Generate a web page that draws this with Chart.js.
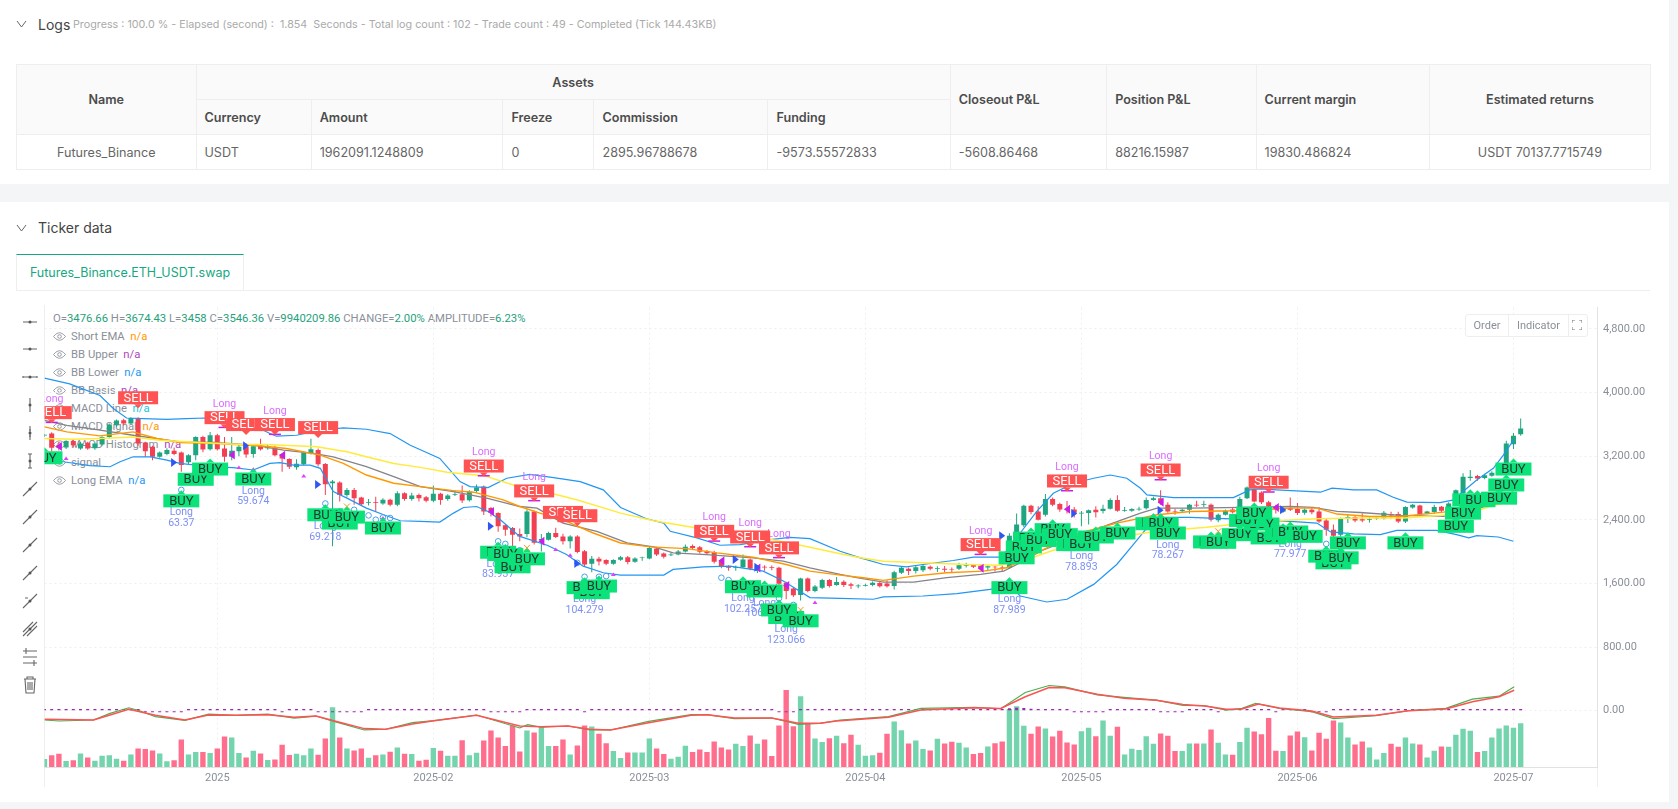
<!DOCTYPE html>
<html>
<head>
<meta charset="utf-8">
<title>Ticker data</title>
<script src="https://cdn.jsdelivr.net/npm/chart.js@4"></script>
<style>
html, body { margin: 0; padding: 0; width: 1678px; height: 809px; overflow: hidden; background: #f4f5f7; font-family: Inter, sans-serif; }
.panel { position: absolute; left: 0; width: 1669px; background: #fff; }
.title { position: absolute; left: 38px; color: #444; }
.chev { position: absolute; left: 16px; width: 11px; height: 8px; }
#assets { position: absolute; left: 16px; top: 64px; border-collapse: collapse; table-layout: fixed; font-size: 12.6px; color: #666; }
#assets th, #assets td { border: 1px solid #eee; padding: 0 8px; text-align: left; height: 34px; white-space: nowrap; overflow: hidden; }
#assets th { background: #fafafa; color: #4c4c4c; font-weight: 600; }
#assets .c { text-align: center; }
#tab { position: absolute; left: 16px; top: 254px; width: 228px; height: 36px; box-sizing: border-box; border: 1px solid #eee; border-top: 1px solid #15a97f; border-bottom: 0; color: #15a97f; font-size: 12.5px; line-height: 36px; text-align: center; }
#tabline { position: absolute; left: 16px; top: 290px; width: 1634px; height: 1px; background: #eee; }
#legend { position: absolute; left: 53px; top: 0; font-family: Roboto, sans-serif; font-size: 11.3px; color: #8a8f99; }
#legend div { position: absolute; white-space: nowrap; }
#legend b { font-weight: 400; }
#legend svg { position: absolute; left: 0; top: 2px; }
#legend span.t { margin-left: 18px; }
#tools { position: absolute; left: 15px; top: 305px; }
#frame { position: absolute; left: 44px; top: 305px; width: 1px; height: 482px; background: #eee; }
#rframe { position: absolute; left: 1597px; top: 767px; width: 1px; height: 20px; background: #eee; }
#chartbox { position: absolute; left: 0; top: 295px; }
#btns { position: absolute; left: 1465px; top: 314px; width: 121px; height: 21px; border: 1px solid #eee; border-radius: 3px; background: #fff; color: #8a8f99; font-family: Roboto, sans-serif; font-size: 11px; line-height: 21px; }
#btns span { position: absolute; top: 0; text-align: center; height: 21px; }
</style>
</head>
<body>
<div class="panel" style="top:0;height:184px"></div>
<div class="panel" style="top:202px;height:600px"></div>

<svg class="chev" style="top:20px" viewBox="0 0 11 8"><path d="M1 1l4.5 6L10 1" fill="none" stroke="#666"/></svg>
<div class="title" style="top:16px;font-size:14px">Logs</div>
<div style="position:absolute;left:73px;top:18px;font-size:10.75px;color:#aaa;white-space:pre">Progress : 100.0 % - Elapsed (second) :  1.854  Seconds - Total log count : 102 - Trade count : 49 - Completed (Tick 144.43KB)</div>

<table id="assets">
<colgroup><col style="width:179.5px"><col style="width:115.2px"><col style="width:191.7px"><col style="width:91.1px"><col style="width:174px"><col style="width:182.3px"><col style="width:156.4px"><col style="width:149.4px"><col style="width:173px"><col style="width:221.8px"></colgroup>
<tr><th rowspan="2" class="c">Name</th><th colspan="5" class="c">Assets</th><th rowspan="2">Closeout P&amp;L</th><th rowspan="2">Position P&amp;L</th><th rowspan="2">Current margin</th><th rowspan="2" class="c">Estimated returns</th></tr>
<tr><th>Currency</th><th>Amount</th><th>Freeze</th><th>Commission</th><th>Funding</th></tr>
<tr><td class="c">Futures_Binance</td><td>USDT</td><td>1962091.1248809</td><td>0</td><td>2895.96788678</td><td>-9573.55572833</td><td>-5608.86468</td><td>88216.15987</td><td>19830.486824</td><td class="c">USDT 70137.7715749</td></tr>
</table>

<svg class="chev" style="top:224px" viewBox="0 0 11 8"><path d="M1 1l4.5 6L10 1" fill="none" stroke="#666"/></svg>
<div class="title" style="top:219px;font-size:14px">Ticker data</div>
<div id="tab">Futures_Binance.ETH_USDT.swap</div>
<div id="tabline"></div>

<div id="legend"></div>
<svg id="tools" width="30" height="395" viewBox="0 0 30 395"></svg>
<div id="frame"></div>
<div id="rframe"></div>
<div id="chartbox"><canvas id="chart" width="1668" height="505" style="display:block;width:1668px;height:505px"></canvas></div>

<div id="btns">
  <span style="left:0;width:42px">Order</span>
  <span style="left:42px;width:59px;border-left:1px solid #eee;border-right:1px solid #eee">Indicator</span>
  <svg style="position:absolute;left:106px;top:5px" width="10" height="10" viewBox="0 0 10 10"><path d="M0 3V0h3M7 0h3v3M10 7v3H7M3 10H0V7" fill="none" stroke="#777"/></svg>
</div>

<script>
// candles (index = bar number from the left)
const candleOpen = [
  3460,3484,3340,3310,3392,3297,3370,3300,3346,3442,
  3588,3650,3610,3672,3370,3317,3192,3226,3268,3247,
  3122,3213,3442,3288,3463,3297,3192,3263,3317,3226,
  3330,3300,3310,3226,3163,3060,3097,3240,3276,3100,
  2860,2868,2713,2776,2680,2610,2622,2605,2651,2590,
  2734,2660,2713,2684,2638,2726,2660,2715,2720,2645,
  2763,2818,2547,2484,2330,2297,2220,2222,2505,2145,
  2150,2235,2190,2130,2190,2005,1847,1910,1895,1847,
  1897,1930,1872,1920,1915,2040,1975,1955,1963,2000,
  2070,2055,2005,1993,1888,1817,1795,1805,1900,1755,
  1810,1805,1797,1610,1535,1455,1663,1505,1547,1642,
  1580,1620,1590,1565,1570,1580,1605,1600,1568,1735,
  1785,1755,1767,1810,1780,1785,1782,1785,1820,1835,
  1822,1800,1810,1808,1800,2170,2330,2576,2505,2463,
  2660,2600,2540,2530,2480,2485,2525,2510,2540,2650,
  2510,2515,2530,2545,2650,2670,2590,2510,2510,2525,
  2590,2585,2590,2395,2465,2530,2505,2670,2775,2742,
  2622,2560,2500,2548,2535,2490,2525,2505,2392,2276,
  2213,2410,2435,2408,2400,2415,2420,2472,2472,2380,
  2555,2580,2480,2497,2563,2505,2620,2734,2925,2950,
  2925,2955,2990,3109,3350,3476.66
];
const candleClose = [
  3470,3305,3310,3392,3338,3360,3297,3360,3442,3597,
  3647,3609,3680,3359,3263,3192,3247,3276,3226,3088,
  3213,3442,3284,3463,3288,3192,3268,3317,3222,3326,
  3288,3310,3213,3172,3067,3105,3242,3288,3097,2846,
  2880,2713,2776,2672,2596,2620,2610,2651,2590,2734,
  2660,2705,2672,2638,2726,2650,2705,2725,2642,2755,
  2805,2505,2485,2318,2276,2213,2190,2505,2110,2160,
  2235,2185,2130,2190,1995,1838,1910,1876,1847,1895,
  1930,1868,1915,1925,2047,1963,1935,1965,2000,2060,
  2045,1997,1980,1872,1820,1797,1805,1900,1785,1815,
  1800,1795,1597,1505,1450,1663,1505,1563,1642,1568,
  1618,1580,1570,1575,1580,1610,1565,1565,1742,1797,
  1755,1805,1818,1785,1790,1772,1775,1830,1830,1810,
  1797,1815,1803,1800,2200,2340,2576,2497,2400,2660,
  2588,2530,2525,2490,2490,2520,2495,2540,2650,2515,
  2520,2535,2540,2650,2670,2610,2505,2505,2525,2590,
  2580,2595,2400,2463,2515,2495,2663,2805,2630,2622,
  2568,2525,2540,2525,2485,2525,2495,2380,2276,2200,
  2410,2435,2392,2390,2410,2425,2490,2455,2380,2560,
  2588,2470,2505,2560,2513,2605,2770,2942,2940,2920,
  2960,2993,3040,3359,3455,3546.36
];
const candleHigh = [
  3480,3500,3380,3400,3410,3380,3380,3375,3450,3610,
  3660,3670,3690,3690,3380,3330,3260,3300,3310,3260,
  3225,3450,3455,3505,3480,3440,3440,3340,3360,3340,
  3420,3345,3330,3235,3175,3160,3250,3420,3295,3115,
  2900,2885,2800,2800,2690,2660,2690,2670,2665,2760,
  2745,2740,2730,2700,2830,2740,2720,2770,2830,2770,
  2845,2830,2560,2495,2345,2310,2290,2530,2520,2220,
  2250,2300,2225,2205,2205,2020,1945,1935,1905,1905,
  1945,1945,1930,1935,2060,2060,1990,1985,2020,2090,
  2090,2070,2020,2010,1900,1830,1825,1965,1915,1830,
  1830,1825,1810,1620,1550,1670,1675,1580,1660,1655,
  1680,1640,1610,1590,1595,1625,1620,1640,1760,1815,
  1800,1830,1840,1825,1815,1820,1800,1860,1860,1845,
  1840,1830,1820,1825,2230,2480,2590,2590,2570,2725,
  2680,2615,2635,2560,2510,2530,2570,2590,2670,2710,
  2560,2545,2565,2680,2690,2770,2620,2540,2540,2600,
  2640,2640,2605,2480,2530,2550,2690,2820,2790,2760,
  2640,2590,2560,2680,2610,2545,2560,2560,2410,2340,
  2430,2465,2450,2480,2440,2440,2510,2500,2500,2570,
  2600,2590,2515,2590,2575,2620,2780,2985,3025,2965,
  2980,3010,3060,3395,3490,3674.43
];
const candleLow = [
  3440,3260,3270,3290,3310,3280,3280,3280,3330,3425,
  3570,3590,3600,3330,3190,3150,3180,3210,3210,3005,
  3100,3150,3250,3270,3270,3130,3150,3200,3180,3180,
  3270,3280,3200,3005,3040,3030,3085,3220,3070,2713,
  2067,2630,2690,2590,2575,2580,2505,2590,2570,2570,
  2640,2640,2630,2620,2620,2590,2640,2700,2610,2630,
  2740,2460,2440,2250,2200,2070,2130,2180,2090,2000,
  2140,2170,2090,2040,1980,1810,1740,1825,1830,1835,
  1885,1840,1860,1885,1905,1945,1915,1945,1955,1990,
  2030,1975,1965,1850,1790,1760,1760,1795,1765,1730,
  1760,1765,1570,1400,1430,1385,1490,1490,1530,1550,
  1570,1555,1530,1540,1560,1565,1550,1550,1525,1720,
  1705,1725,1745,1765,1745,1740,1730,1770,1800,1795,
  1780,1770,1750,1755,1780,2150,2310,2470,2390,2440,
  2570,2500,2480,2430,2320,2340,2430,2480,2530,2500,
  2500,2500,2515,2530,2640,2590,2490,2465,2490,2475,
  2560,2560,2380,2370,2455,2480,2490,2660,2620,2600,
  2540,2480,2490,2510,2460,2465,2470,2360,2200,2180,
  2190,2360,2370,2370,2365,2400,2405,2420,2360,2360,
  2540,2450,2470,2480,2490,2490,2600,2720,2890,2890,
  2910,2940,2975,3090,3290,3458
];
// volume in millions
const volume = [
  1.81,2.64,3.01,1.36,1.51,3.09,2.18,1.43,2.56,2.64,
  1.88,1.43,2.86,4.22,4.07,3.77,3.09,1.28,1.51,6.25,
  2.86,3.39,3.39,3.16,4.22,6.93,6.70,3.16,2.18,3.69,
  3.09,1.58,1.73,5.05,2.71,3.01,2.64,4.22,2.79,6.48,
  13.55,6.70,4.22,3.77,4.22,2.11,2.64,2.86,3.46,4.44,
  3.01,2.94,1.43,1.66,4.29,3.69,2.56,2.56,6.10,2.64,
  3.24,6.02,8.28,6.70,4.74,9.41,3.54,8.28,7.83,9.19,
  4.74,4.74,6.25,2.86,4.89,9.41,9.19,7.53,5.42,3.61,
  2.03,3.31,3.31,3.31,6.48,4.22,2.94,1.88,2.33,4.82,
  3.39,3.99,3.39,5.80,4.44,3.99,5.27,4.74,7.15,5.27,
  6.25,2.48,9.41,17.47,9.26,16.04,9.94,6.48,5.65,6.55,
  7.08,5.42,7.30,5.05,2.56,2.64,3.24,7.53,10.32,8.36,
  5.35,6.02,4.07,3.77,6.40,5.35,5.72,5.50,4.44,2.94,
  3.16,4.67,5.42,5.80,13.18,13.78,9.34,7.53,9.19,8.73,
  6.93,8.21,5.57,5.12,8.13,8.89,7.00,10.54,7.08,9.11,
  2.86,4.14,3.84,7.00,5.27,7.61,7.08,3.61,3.61,5.35,
  5.35,5.35,8.51,5.50,2.86,2.79,5.65,8.89,8.06,7.45,
  11.14,3.69,3.61,7.15,8.06,6.78,3.77,7.76,6.40,10.54,
  10.09,6.70,5.12,5.80,4.44,1.73,3.16,5.27,4.59,6.70,
  5.35,5.12,2.18,3.69,4.67,4.59,7.30,8.66,8.21,3.39,
  3.61,6.70,8.73,9.41,8.89,9.94
];
const macdHist = [
  8,8,8,8,8,8,8,8,8,20,
  22,22,20,8,-18,-18,-18,-18,-18,-18,
  10,10,10,10,10,8,8,8,8,8,
  8,8,8,-14,8,8,8,8,-20,-20,
  -20,-20,-20,-20,-20,8,8,8,8,8,
  8,8,8,8,8,8,8,8,8,8,
  8,8,-20,-20,-20,-20,-20,8,8,8,
  8,8,8,8,8,-14,8,8,8,8,
  8,8,8,8,20,20,8,8,8,8,
  8,8,8,8,8,8,8,8,8,8,
  8,8,-18,-18,-18,8,8,8,8,8,
  8,8,8,8,8,8,8,8,16,16,
  8,8,8,8,8,8,8,8,8,8,
  8,8,8,8,30,36,34,24,20,8,
  8,8,8,-14,-14,-14,-14,-14,8,8,
  8,8,8,8,8,-14,-14,-14,-14,8,
  8,8,8,-14,8,8,8,8,8,8,
  8,-14,8,8,8,8,-18,-18,-18,8,
  8,8,8,8,8,8,8,8,8,8,
  8,8,8,8,8,8,8,22,22,8,
  8,8,8,22,22,22
];

// indicator lines, read at their visible bends: bar position and value
const bbUpperX = [0,3.5,7.7,9.6,11.4,13.7,17,19.7,22.3,26,29,31.3,32.2,35,38.3,41.5,44.7,48,50.8,52.2,54.9,57.7,59.1,61.6,64.2,67.4,70.7,74.4,77.6,80,83.6,86,86.9,90.6,93.8,96.6,100.8,103.5,106.3,110.5,113.3,116.5,119.7,123,126.2,129,132.7,134.1,135.5,137.8,140.1,142.9,145.7,148,150.3,152.2,153.1,156.8,161.4,165.1,167.4,168.8,171.1,177.2,178.8,181.8,185,187.3,189.2,193.8,195.7,197,198.9,201.2,202.6,204];
const bbUpperY = [4180,4109,3963,3797,3680,3672,3663,3672,3680,3672,3588,3484,3451,3463,3526,3555,3538,3484,3338,3280,3172,2880,2818,2805,2922,2972,2930,2880,2776,2555,2413,2359,2255,2172,2080,2088,2151,2180,2163,2005,1922,1838,1809,1851,1888,1930,1930,2047,2234,2505,2734,2859,2922,2963,2922,2797,2713,2680,2680,2680,2776,2788,2776,2747,2797,2776,2776,2684,2622,2617,2651,2755,2901,3047,3213,3401];
const bbLowerX = [0,2.6,6.3,9.1,10.5,12.3,14.7,17,18.8,23,26.2,29,31.3,32.7,34.6,36.9,38.3,40.1,42,44.7,47.1,49.4,52.2,54.9,56.8,58.2,60,61.6,63.3,66,69.8,72.5,74.8,77.6,80,86,87.3,91.5,95.2,99.8,102.6,106.3,110.5,115.1,116.5,122,126.7,131.3,134.1,135.5,139.2,142,145.7,148.9,151.2,152.9,154.2,159.1,161.9,168.8,173,176.7,178.6,181.8,185.5,187.8,193.3,196.1,197.8,198.9,201.9,204];
const bbLowerY = [3151,3130,3080,3067,3130,3192,3192,3151,3109,3067,3055,3026,3109,3118,3088,3088,3047,2755,2672,2547,2463,2388,2380,2372,2484,2555,2567,2505,2401,2192,2080,1963,1817,1734,1705,1705,1776,1809,1817,1755,1630,1422,1413,1401,1430,1442,1472,1526,1567,1442,1367,1401,1588,1838,2088,2276,2430,2430,2422,2400,2380,2359,2247,2222,2213,2267,2267,2213,2172,2201,2184,2130];
const bbBasisX = [0,3.1,7.7,12.3,18.8,23.5,29,33.2,37.3,40.1,44.7,48.5,52.2,56.8,61.4,66,68.4,72,76.7,80.9,84.6,87.3,91.9,98.4,102.6,106.3,110.5,112.8,116.5,120.7,125.3,130,133.2,136.4,138.3,142.9,147.5,152.2,154.5,159.1,168.8,173,176.2,179.5,182.7,188.3,194.3,197,201.2,204];
const bbBasisY = [3651,3588,3526,3463,3380,3372,3338,3276,3234,3192,3067,2942,2817,2755,2672,2567,2547,2359,2255,2109,2059,1984,1963,1922,1880,1797,1713,1672,1617,1617,1672,1713,1755,1901,2005,2172,2330,2484,2547,2547,2560,2567,2555,2505,2492,2455,2442,2505,2588,2672];
const shortEmaX = [0,3.1,7.7,12.3,15.6,18.8,23.9,29.9,33.6,38.3,41.5,44.7,48.5,52.2,56.8,59.6,63.7,66,68.8,72.5,76.2,80,84.1,89.2,93.4,98.4,103,106.3,110.5,113.7,116.5,120.7,125.3,130.4,133.6,136.4,139.2,143.8,148.9,154.5,159.1,165.1,168.8,173,176.7,179.5,184.1,188.3,194.3,197.5,201.2,204];
const shortEmaY = [3568,3505,3455,3505,3422,3372,3359,3330,3297,3213,3109,2963,2859,2817,2767,2747,2651,2567,2484,2380,2234,2109,2059,2038,1984,1930,1838,1755,1705,1672,1638,1692,1734,1755,1797,1922,2047,2234,2359,2463,2505,2513,2526,2547,2547,2472,2442,2442,2497,2547,2651,2755];
const longEmaX = [0,4,7.7,12.3,16,21.6,27.2,30.9,37.8,42,44.7,48.5,52.2,55.9,61,65.1,69.8,73.9,80,84.6,90.6,96.1,102.2,106.3,110.5,113.3,116.5,122,128,132.7,136.4,140.1,143.8,148.9,154.5,161.4,168.8,176.7,182.7,188.8,193.8,198.5,201.2,204];
const longEmaY = [3422,3413,3422,3442,3401,3372,3347,3347,3317,3255,3192,3109,3059,2997,2955,2838,2747,2651,2484,2388,2297,2234,2130,2055,1972,1922,1880,1859,1838,1830,1901,2017,2109,2180,2255,2305,2380,2413,2422,2422,2455,2505,2580,2638];
const macdX = [0,2,6.8,9.1,11.7,13.2,15.4,19.5,22.8,26.6,31,34.7,37.7,40.3,44.4,47.4,51.1,54.1,60,66,67.1,69,72.7,75.7,78.6,83.9,89.8,92,95.8,101,104.7,107.7,110.5,117.2,121.7,129.2,132.8,136.2,139.5,141.7,146.2,149.9,154.4,158.1,161.1,164.1,166.3,168.2,171.5,176,179,184.9,189.4,194.6,198.3,202,204.1];
const macdY = [-117,-129,-117,-33,37,0,-75,-121,-42,-58,-42,-92,-67,-137,-242,-233,-150,-125,-54,-217,-175,-208,-192,-242,-242,-133,-50,-50,-100,-92,-171,-158,-117,-75,29,42,25,229,317,300,200,167,133,67,63,8,29,92,29,-13,-100,-63,0,29,146,183,300];
const signalX = [0,6.8,9.1,11.7,15.4,19.5,22.8,26.6,31,34.7,37.7,40.3,44.4,47.4,51.1,54.1,60,66,69,72.7,75.7,78.6,83.9,89.8,92,95.8,101,104.7,107.7,110,117.2,121.7,129.2,132.8,136.2,139.5,141.7,146.2,149.9,154.4,158.1,161.1,164.1,166.3,168.6,171.5,176,179,184.9,189.4,194.6,198.3,202,204.1];
const signalY = [-108,-117,-54,17,-58,-117,-54,-58,-50,-83,-67,-129,-225,-233,-167,-125,-58,-192,-200,-192,-233,-242,-150,-58,-50,-92,-92,-158,-158,-129,-83,8,38,29,175,292,288,208,158,133,79,58,17,21,83,33,-4,-79,-58,0,21,113,175,258];

// signal labels
const buyIdx =   [0,19,21,23,29,41,39,42,47,65,63,64,67,76,75,77,97,100,103,102,105,134,137,136,135,138,140,141,143,144,146,149,154,155,156,162,163,166,170,169,167,168,172,173,175,179,178,180,181,189,197,196,198,199,202,203,204];
const buyPrice = [3180,2638,2909,3038,2913,2359,2463,2434,2297,1809,1992,1963,1909,1484,1547,1567,1559,1505,1172,1267,1130,1547,2170,2059,1922,2140,2276,2213,2088,2088,2184,2234,2351,2351,2234,2122,2117,2213,2172,2347,2392,2484,2225,2247,2192,1859,1943,1922,2110,2110,2484,2318,2651,2640,2672,2838,3038];
const buyNoteIdx = [19,29,39,63,75,97,100,103,134,144,156,173];
const buyNoteText = ['63.37','59.674','69.218','83.937','104.279','102.257','106.548','123.066','87.989','78.893','78.267','77.977'];
const sellIdx =   [1,13,25,28,32,38,61,68,72,74,93,98,102,130,142,155,170];
const sellPrice = [3747,3934,3684,3597,3597,3559,3076,2763,2493,2451,2255,2184,2047,2088,2888,3026,2872];
const sellNoteIdx = [1,25,32,61,68,93,98,102,130,142,155,170];
const exitLeftIdx =   [2,26,33,62,69,94,99,103,130,142,155,171];
const exitLeftPrice = [3320,3215,3210,2505,2130,1885,1795,1575,1790,2532,2622,2555];
const entryRightIdx =   [18,28,38,62,74,96,99,102,133,143,155,172];
const entryRightPrice = [3120,3330,2845,2318,1850,1900,1805,1535,2200,2480,2520,2525];
const tinyIdx =   [3,27,29,36,47,71,73,79,67,107,134,154,181];
const tinyPrice = [3172,3059,3034,2951,2422,2026,1955,1713,2017,1359,1651,2455,2213];
const circleIdx =   [19,39,41,43,44,45,46,47,48,63,64,66,74,75,77,78,94,95,102,104,178];
const circlePrice = [2776,2605,2505,2526,2442,2455,2401,2430,2422,2130,2097,2017,1859,1684,1684,1692,1672,1642,1413,1330,2097];
const crossIdx =   [42,67,105,163];
const crossPrice = [2567,2047,1267,2255];

const priceTicks = [0,800,1600,2400,3200,4000,4800];
const timeTickIdx = [24,54,84,114,144,174,204];
const timeTickLabels = ['2025','2025-02','2025-03','2025-04','2025-05','2025-06','2025-07'];

const legendRows = [
  ['Short EMA','n/a','#ff9800'],['BB Upper','n/a','#ab47bc'],['BB Lower','n/a','#2196f3'],
  ['BB Basis','n/a','#ab47bc'],['MACD Line','n/a','#26c6da'],['MACD Signal','n/a','#ff9800'],
  ['MACD Histogram','n/a','#ab47bc'],['signal','',''],['Long EMA','n/a','#2196f3']
];
const ohlcvParts = [['O=','3476.66'],['H=','3674.43'],['L=','3458'],['C=','3546.36'],['V=','9940209.86'],['CHANGE=','2.00%'],['AMPLITUDE=','6.23%']];

const UP = '#1fa57f', DOWN = '#f23f52';
const VOL_UP = '#74d4ae', VOL_DOWN = '#ff6f8d';
const FONT = 'Roboto, sans-serif';

function pts(xs, ys) { return xs.map((x, i) => ({ x, y: ys[i] })); }
function line(data, color, width, order) {
  return { type: 'line', data, borderColor: color, borderWidth: width, pointRadius: 0, tension: 0, fill: false, order };
}
// bars sit exactly on their bar number, not side by side
function bars(data, width, color, order, extra) {
  return Object.assign({ data, grouped: false, barPercentage: 1, maxBarThickness: width, backgroundColor: color, order }, extra);
}

// labels and little marks, placed through the chart scales
const signalMarks = {
  id: 'signalMarks',
  afterDatasetsDraw(chart) {
    const { ctx, chartArea: a, scales: { x, y } } = chart;
    const px = i => x.getPixelForValue(i), py = v => y.getPixelForValue(v);
    ctx.save();
    ctx.beginPath(); ctx.rect(a.left, a.top, a.right - a.left, a.bottom - a.top); ctx.clip();

    function tri(x1, y1, x2, y2, x3, y3, color) {
      ctx.fillStyle = color;
      ctx.beginPath(); ctx.moveTo(x1, y1); ctx.lineTo(x2, y2); ctx.lineTo(x3, y3); ctx.closePath(); ctx.fill();
    }
    tinyIdx.forEach((d, k) => { const X = px(d), Y = py(tinyPrice[k]); tri(X, Y - 2, X - 2.5, Y + 1.5, X + 2.5, Y + 1.5, '#e040fb'); });
    ctx.lineWidth = 1;
    circleIdx.forEach((d, k) => {
      ctx.strokeStyle = '#4a9fea';
      ctx.beginPath(); ctx.arc(px(d), py(circlePrice[k]), 2.8, 0, Math.PI * 2); ctx.stroke();
    });
    crossIdx.forEach((d, k) => {
      const X = px(d), Y = py(crossPrice[k]);
      ctx.strokeStyle = '#f7931a';
      ctx.beginPath(); ctx.moveTo(X - 3, Y - 3); ctx.lineTo(X + 3, Y + 3); ctx.moveTo(X + 3, Y - 3); ctx.lineTo(X - 3, Y + 3); ctx.stroke();
    });
    exitLeftIdx.forEach((d, k) => { const X = px(d), Y = py(exitLeftPrice[k]); tri(X - 3, Y, X + 3, Y - 4.5, X + 3, Y + 4.5, '#c81fe6'); });
    entryRightIdx.forEach((d, k) => { const X = px(d), Y = py(entryRightPrice[k]); tri(X + 3, Y, X - 3, Y - 4.5, X - 3, Y + 4.5, '#2f55f5'); });

    // Long notes go under the boxes
    ctx.textAlign = 'center'; ctx.textBaseline = 'middle';
    ctx.font = '10.5px ' + FONT;
    ctx.fillStyle = '#7d8ff5';
    buyNoteIdx.forEach((d, k) => {
      const X = px(d), Y = py(buyPrice[buyIdx.indexOf(d)]);
      ctx.fillText('Long', X, Y + 12);
      ctx.fillText(buyNoteText[k], X, Y + 22.5);
    });
    ctx.fillStyle = '#d96cff';
    sellNoteIdx.forEach(d => { ctx.fillText('Long', px(d), py(sellPrice[sellIdx.indexOf(d)]) - 13.5); });
    ctx.fillStyle = '#c81fe6';
    sellNoteIdx.forEach(d => { ctx.fillRect(px(d) - 6, py(sellPrice[sellIdx.indexOf(d)]) + 9, 12, 1.5); });

    ctx.font = '13px ' + FONT;
    sellIdx.forEach((d, k) => {
      const X = px(d), Y = py(sellPrice[k]);
      tri(X - 4, Y + 6.5, X + 4, Y + 6.5, X, Y + 10.5, '#ff5252');
      ctx.fillStyle = '#ff5252'; ctx.fillRect(X - 20, Y - 6.5, 40, 13);
      ctx.fillStyle = '#fff'; ctx.fillText('SELL', X, Y + 0.5);
    });
    buyIdx.forEach((d, k) => {
      const X = px(d), Y = py(buyPrice[k]);
      tri(X - 4, Y - 6.5, X + 4, Y - 6.5, X, Y - 10.5, '#0be37a');
      ctx.fillStyle = '#0be37a'; ctx.fillRect(X - 18, Y - 6.5, 36, 13);
      ctx.fillStyle = '#25352f'; ctx.fillText('BUY', X, Y + 0.5);
    });
    ctx.restore();
  }
};

new Chart(document.getElementById('chart'), {
  type: 'bar',
  data: {
    datasets: [
      bars(volume.map((v, i) => ({ x: i, y: v })), 5.4, volume.map((_, i) => candleClose[i] >= candleOpen[i] ? VOL_UP : VOL_DOWN), 20, { yAxisID: 'vol' }),
      bars(macdHist.map((v, i) => ({ x: i, y: v })), 3, '#9c27b0', 19, { minBarLength: 1.6 }),
      bars(candleHigh.map((h, i) => ({ x: i, y: [candleLow[i], h] })), 1, candleHigh.map((_, i) => candleClose[i] >= candleOpen[i] ? UP : DOWN), 18),
      bars(candleOpen.map((o, i) => ({ x: i, y: [o, candleClose[i]] })), 5, candleOpen.map((o, i) => candleClose[i] >= o ? UP : DOWN), 17),
      line(pts(bbUpperX, bbUpperY), '#2196f3', 1.2, 6),
      line(pts(bbLowerX, bbLowerY), '#2196f3', 1.2, 5),
      line(pts(bbBasisX, bbBasisY), '#85838a', 1.3, 4),
      line(pts(shortEmaX, shortEmaY), '#ff9800', 1.4, 3),
      line(pts(longEmaX, longEmaY), '#ffeb3b', 1.5, 2),
      line(pts(macdX, macdY), '#4caf50', 1.2, 1.5),
      line(pts(signalX, signalY), '#ff5252', 1.5, 1)
    ]
  },
  options: {
    responsive: false, animation: false, events: [],
    devicePixelRatio: 1,
    layout: { padding: { left: 44.5, top: 10, right: 0, bottom: 0 } },
    plugins: { legend: { display: false }, tooltip: { enabled: false } },
    scales: {
      x: {
        type: 'linear', min: 0, max: 215.6, offset: false,
        afterFit: ax => { ax.height = 33; },
        afterBuildTicks: ax => { ax.ticks = timeTickIdx.map(v => ({ value: v })); },
        afterTickToLabelConversion: ax => { ax.ticks.forEach((t, k) => { t.label = timeTickLabels[k]; }); },
        grid: { color: '#efefef', tickLength: 0, drawTicks: false, offset: false },
        border: { color: '#e2e2e2', dash: [2, 3] },
        ticks: { color: '#8a8f99', font: { family: FONT, size: 11 }, padding: 5, maxRotation: 0, autoSkip: false }
      },
      y: {
        position: 'right', min: -707.5, max: 5067.5,
        afterFit: ax => { ax.width = 71; },
        afterBuildTicks: ax => { ax.ticks = priceTicks.map(v => ({ value: v })); },
        grid: { color: '#efefef', drawTicks: false },
        border: { color: '#e2e2e2', dash: [2, 3] },
        ticks: { color: '#8a8f99', font: { family: FONT, size: 11 }, padding: 6,
          callback: v => v.toLocaleString('en-US', { minimumFractionDigits: 2, maximumFractionDigits: 2 }) }
      },
      vol: { display: false, min: 0, max: 104.3 }
    }
  },
  plugins: [signalMarks]
});

// legend block top left
const eye = '<svg width="13" height="9" viewBox="0 0 13 9"><path d="M.5 4.5C3 1.500 5 .8 6.500 .8s3.500 .7 6 3.700C10 7.500 8 8.200 6.500 8.200S3 7.500 .5 4.500z" fill="none" stroke="#8a8f99" stroke-width=".9"/><circle cx="6.500" cy="4.500" r="1.800" fill="none" stroke="#8a8f99" stroke-width=".9"/></svg>';
const legendEl = document.getElementById('legend');
let legendHtml = '<div style="top:312px;left:0">' + ohlcvParts.map(p => p[0] + '<b style="color:#26a17b">' + p[1] + '</b>').join(' ') + '</div>';
legendRows.forEach((r, k) => {
  legendHtml += '<div style="left:0;top:' + (330 + k * 18) + 'px">' + eye + '<span class="t">' + r[0] + '</span>' +
    (r[1] ? '&nbsp; <b style="color:' + r[2] + '">' + r[1] + '</b>' : '') + '</div>';
});
legendEl.innerHTML = legendHtml;

// drawing tools column
const toolY = [17,44,72,100,128,156,184,212,240,268,296,324,352,380];
const toolMarks = [
  'M8 17h14M13 17h4', 'M8 44h14M11 44h2M17 44h2', 'M8 72h14M8 71v2M22 71v2',
  'M15 93v14M14 100h2', 'M15 121v14M14 125h2M14 131h2', 'M15 149v14M13 149h4M13 163h4',
  'M8 191l14-14M13 186l4-4', 'M8 219l14-14M13 214l3-3', 'M8 247l14-14',
  'M8 275l14-14', 'M8 303l14-14M10 293h3', 'M8 331l14-14M12 331l10-10M8 327l10-10',
  'M8 346h14M8 352h14M8 358h14M11 343v6M19 355v6', 'M9 374h12M12 374v-2h6v2M10 374l1 14h8l1-14M13 377v8M15 377v8M17 377v8'
];
document.getElementById('tools').innerHTML = toolMarks.map(d => '<path d="' + d + '" fill="none" stroke="#666" stroke-width="1.100"/>').join('') +
  toolY.slice(0, 12).map(y => '<circle cx="15" cy="' + y + '" r="1.500" fill="#555"/>').join('');
</script>
</body>
</html>
